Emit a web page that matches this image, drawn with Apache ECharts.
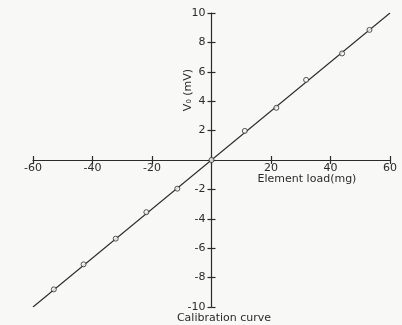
<!DOCTYPE html>
<html>
<head>
<meta charset="utf-8">
<script src="https://cdn.jsdelivr.net/npm/echarts@6/dist/echarts.min.js"></script>
<style>
  html, body { margin: 0; padding: 0; background: #f8f8f6; }
  #chart { width: 402px; height: 325px; }
</style>
</head>
<body>
<div id="chart"></div>
<script>
// measured points (element load in mg, output in mV)
const loadMg = [-53, -43, -32.2, -21.9, -11.5, 0, 11.2, 21.8, 31.8, 43.9, 53.1];
const voltageMv = [-8.8, -7.1, -5.35, -3.55, -1.95, 0, 1.98, 3.55, 5.45, 7.25, 8.85];
// calibration line end points
const fitLoad = [-60, 60];
const fitVolt = [-10, 10];
const xTicks = [-60, -40, -20, 0, 20, 40, 60];
const yTicks = [-10, -8, -6, -4, -2, 0, 2, 4, 6, 8, 10];

const ink = '#2b2b2b';
const font = 'DejaVu Sans';
const paper = '#f8f8f6';

// plot box
const L = 33, R = 12, T = 13, B = 18;
const W = 402 - L - R, H = 325 - T - B;

let chart = echarts.init(document.getElementById('chart'));

// visible axis: line + ticks + labels. zero label is left out (axes cross there)
function axis(ticks, gridIndex, position, opts) {
    return {
        type: 'value',
        gridIndex: gridIndex,
        position: position,
        min: ticks[0],
        max: ticks[ticks.length - 1],
        interval: ticks[1] - ticks[0],
        axisLine: { show: opts.line, onZero: false, lineStyle: { color: ink, width: 1.2 } },
        axisTick: { show: true, inside: opts.inside, length: 4, lineStyle: { color: ink, width: 1.2 } },
        axisLabel: {
            show: opts.labels,
            color: ink,
            fontFamily: font,
            fontSize: 11,
            margin: opts.margin || 4,
            formatter: v => (v === 0 ? '' : String(v))
        },
        splitLine: { show: false }
    };
}
function hidden(ticks, gridIndex) {
    return { type: 'value', gridIndex: gridIndex, show: false, min: ticks[0], max: ticks[ticks.length - 1] };
}

const option = {
    backgroundColor: paper,
    animation: false,
    grid: [
        // data grid
        { left: L, top: T, width: W, height: H, outerBoundsMode: 'none' },
        // x axis sits on the bottom edge of the upper half
        { left: L, top: T, width: W, height: H / 2, outerBoundsMode: 'none' },
        // y axis sits on the left edge of the right half
        { left: L + W / 2, top: T, width: W / 2, height: H, outerBoundsMode: 'none' }
    ],
    xAxis: [
        hidden(xTicks, 0),
        axis(xTicks, 1, 'bottom', { line: true, inside: false, labels: true, margin: 3 }),
        axis(xTicks, 1, 'bottom', { line: false, inside: true, labels: false }),
        hidden(xTicks, 2)
    ],
    yAxis: [
        hidden(yTicks, 0),
        hidden(yTicks, 1),
        axis(yTicks, 2, 'left', { line: true, inside: false, labels: true, margin: 6 }),
        axis(yTicks, 2, 'left', { line: false, inside: true, labels: false })
    ],
    graphic: [
        {
            type: 'text', x: 307, y: 179,
            style: { text: 'Element load(mg)', fill: ink, font: '11px "DejaVu Sans"', align: 'center', verticalAlign: 'middle' }
        },
        {
            type: 'text', x: 188, y: 90, rotation: Math.PI / 2,
            style: { text: 'V₀ (mV)', fill: ink, font: '11px "DejaVu Sans"', align: 'center', verticalAlign: 'middle' }
        },
        {
            type: 'text', x: 224, y: 318,
            style: { text: 'Calibration curve', fill: ink, font: '11px "DejaVu Sans"', align: 'center', verticalAlign: 'middle' }
        }
    ],
    series: [
        {
            type: 'line',
            xAxisIndex: 0, yAxisIndex: 0,
            data: fitLoad.map((x, i) => [x, fitVolt[i]]),
            symbol: 'none',
            lineStyle: { color: ink, width: 1.1 },
            z: 2
        },
        {
            type: 'scatter',
            xAxisIndex: 0, yAxisIndex: 0,
            data: loadMg.map((x, i) => [x, voltageMv[i]]),
            symbol: 'circle',
            symbolSize: 5,
            itemStyle: { color: paper, borderColor: ink, borderWidth: 1 },
            z: 3
        }
    ]
};
chart.setOption(option);
</script>
</body>
</html>
